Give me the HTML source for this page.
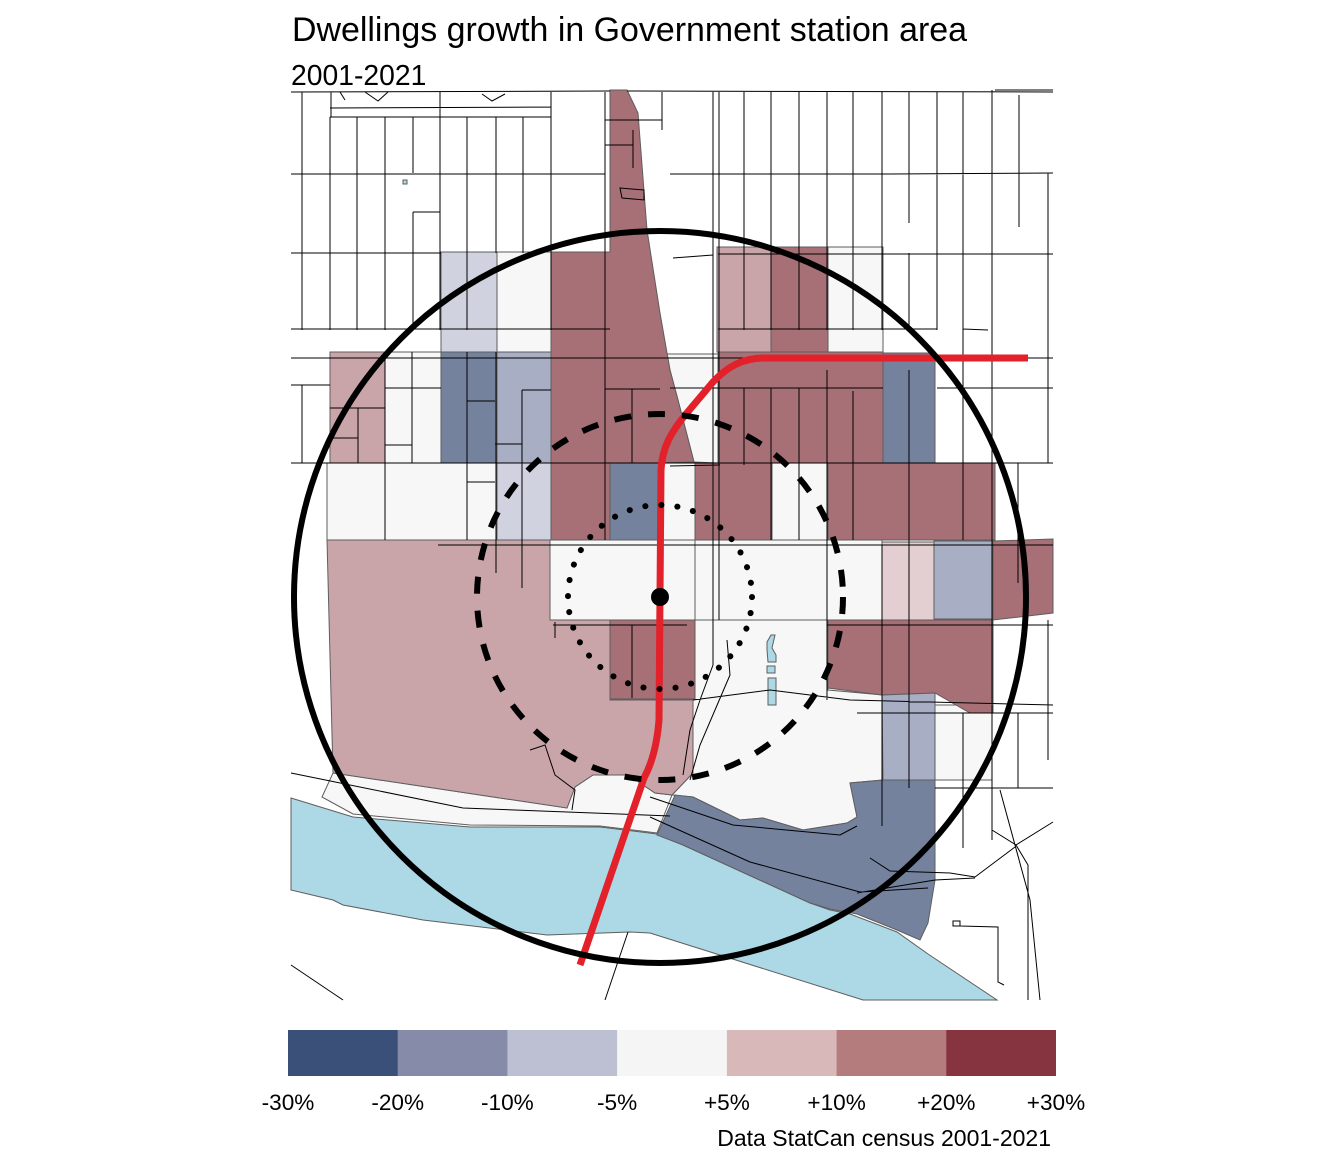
<!DOCTYPE html>
<html><head><meta charset="utf-8"><style>
html,body{margin:0;padding:0;background:#fff;}
svg{display:block;}
text{font-family:"Liberation Sans",Arial,sans-serif;fill:#000;}
</style></head><body>
<svg width="1344" height="1152" viewBox="0 0 1344 1152" xmlns="http://www.w3.org/2000/svg">
<rect width="1344" height="1152" fill="#fff"/>
<text x="292" y="41" font-size="33.8" textLength="675" lengthAdjust="spacingAndGlyphs">Dwellings growth in Government station area</text>
<text x="291" y="85" font-size="28.3">2001-2021</text>

<g stroke="#5e5e5e" stroke-width="1">
  <polygon fill="#add8e6" points="291,798 353,817 470,827 600,827 657,834 683,845 810,903 830,910 850,914 897,932 928,954 997,1000 863,1000 650,933 630,932 547,935 423,920 343,905 333,900 291,890"/>
  <polygon fill="#f7f7f7" points="322,797 333,773 567,808 575,787 593,775 630,775 640,783 655,793 672,795 657,833 600,826 470,825 353,814"/>
  <polygon fill="#f7f7f7" points="693,620 828,620 828,690 883,695 883,780 850,783 857,817 847,823 803,830 763,818 740,820 693,797 672,795 693,773"/>
  <rect x="935" y="705" width="57" height="75" fill="#f7f7f7"/>
  <polygon fill="#c9a5a9" points="327,540 550,540 550,620 610,620 610,700 693,700 693,773 672,795 655,793 640,783 630,775 593,775 575,787 567,808 333,773"/>
  <polygon fill="#74829e" points="657,835 675,795 693,797 740,820 763,818 803,830 847,823 857,817 850,783 883,780 935,780 935,880 928,923 920,940 897,930 857,914 830,909 810,903 683,845"/>

  <rect x="441" y="252" width="56" height="100" fill="#d0d3df"/>
  <rect x="497" y="252" width="54" height="100" fill="#f7f7f7"/>
  <rect x="717" y="247" width="54" height="105" fill="#c9a5a9"/>
  <rect x="771" y="247" width="57" height="105" fill="#a76f76"/>
  <rect x="828" y="247" width="55" height="108" fill="#f7f7f7"/>

  <rect x="330" y="352" width="55" height="111" fill="#c9a5a9"/>
  <rect x="385" y="352" width="56" height="111" fill="#f7f7f7"/>
  <rect x="441" y="352" width="56" height="111" fill="#74829e"/>
  <rect x="497" y="352" width="54" height="111" fill="#a8aec4"/>
  <polygon fill="#f7f7f7" points="667,354 718,354 718,463 694,462 678,400 670,370"/>
  <rect x="718" y="352" width="165" height="111" fill="#a76f76"/>
  <rect x="883" y="353" width="52" height="110" fill="#74829e"/>

  <rect x="327" y="463" width="170" height="77" fill="#f7f7f7"/>
  <rect x="497" y="463" width="54" height="77" fill="#d0d3df"/>
  <rect x="610" y="463" width="50" height="77" fill="#74829e"/>
  <rect x="660" y="463" width="35" height="77" fill="#f7f7f7"/>
  <rect x="695" y="463" width="77" height="77" fill="#a76f76"/>
  <rect x="772" y="463" width="56" height="77" fill="#f7f7f7"/>
  <rect x="828" y="463" width="167" height="77" fill="#a76f76"/>

  <rect x="550" y="540" width="145" height="80" fill="#f7f7f7"/>
  <rect x="695" y="540" width="187" height="80" fill="#f7f7f7"/>
  <rect x="882" y="542" width="52" height="80" fill="#e3cfd1"/>
  <rect x="934" y="541" width="59" height="78" fill="#a8aec4"/>
  <polygon fill="#a76f76" points="993,541 1053,539 1053,613 993,620"/>

  <rect x="610" y="620" width="85" height="79" fill="#a76f76"/>
  <polygon fill="#a76f76" points="828,620 993,620 993,713 970,713 935,693 882,695 828,688"/>
  <polygon fill="#a8aec4" points="882,695 935,693 935,780 883,780"/>

  <polygon fill="#a76f76" points="610,90 627,90 638,113 647,230 660,313 670,370 678,400 694,462 660,463 610,463 610,540 551,540 551,252 610,252"/>

  <polygon fill="#add8e6" points="767,642 771,635 775,635 772,648 776,655 776,662 768,662 767,650"/>
  <rect x="767" y="666" width="8" height="7" fill="#add8e6"/>
  <rect x="768" y="678" width="8" height="27" fill="#add8e6"/>
  <rect x="403" y="180" width="4" height="4" fill="#add8e6"/>
</g>

<path fill="none" stroke="#000" stroke-width="1" d="
M291,92 L610,91 M627,91 L1053,92
M330,108 L551,107 M330,117 L551,117
M291,174 L605,174 M670,174 L890,174 L1053,173
M291,253 L441,253 M673,258 L713,255 M718,254 L1053,254
M291,329 L610,329 M718,329 L937,329 M963,329 L988,330
M291,358 L1053,358
M291,385 L330,385 M385,388 L441,388 M330,408 L385,408 M330,438 L358,438 M385,445 L412,445
M467,401 L495,401 M467,482 L495,482 M522,390 L551,390 M495,444 L522,444
M605,389 L660,389 M670,388 L883,388 M937,388 L1053,388
M291,463 L1053,463 M670,466 L720,465
M438,545 L1053,545
M553,625 L687,625 M827,625 L1053,625
M857,713 L1053,713 M935,788 L1053,788
M605,120 L662,120 M605,145 L633,145 M633,130 L633,168 M662,92 L662,130
M620,188 L644,190 L644,200 L622,198 Z
M302,92 L302,330 M302,385 L302,463
M331,92 L331,117 M551,92 L551,117
M330,117 L330,330 M357,117 L357,330 M385,117 L385,330
M413,117 L413,173 M413,212 L413,330 M413,212 L440,212
M440,92 L440,330 M467,117 L467,330 M496,117 L496,253 M523,117 L523,253 M551,117 L551,330
M605,92 L605,540
M358,408 L358,463 M385,352 L385,540 M412,352 L412,463 M467,352 L467,540
M496,352 L496,573 M522,390 L522,588
M632,389 L632,463 M632,625 L632,698 M555,622 L555,638
M713,92 L713,665 M719,92 L719,620
M744,92 L744,330 M744,388 L744,465
M771,92 L771,330 M771,388 L771,540
M799,92 L799,330 M799,388 L799,540
M827,92 L827,330 M827,370 L827,700
M853,92 L853,330 M853,391 L853,540
M882,92 L882,330 M882,545 L882,826
M909,92 L909,223 M909,253 L909,328 M909,370 L909,788
M937,92 L937,330 M963,92 L963,540
M992,90 L992,840 M995,90 L1053,90
M1019,95 L1019,227 M1018,463 L1018,583 M1018,713 L1018,788
M1048,173 L1048,463 M1048,620 L1048,760
M963,713 L963,848
M992,830 L1016,845 L1028,865 L1028,1000 M1016,845 L1053,822
M1000,790 L1030,900 L1040,1000
M870,858 L890,871 L950,873 L975,877 L1015,847
M857,893 L935,880 L975,878
M953,921 L960,921 L960,926 L953,926 Z M960,926 L998,927 L998,982 L1004,985
M291,965 L343,1000 M605,1000 L628,932
M713,665 L700,700 L690,730 L683,775
M727,640 L730,675 L715,710 L700,745 L690,780
M693,700 L770,690 L850,700 L1053,705
M650,797 L733,825 L840,835 L857,826
M650,817 L750,862 L860,892 L928,888
M291,773 L463,808 L670,816
M530,750 L545,745 L555,775 L575,790 L572,810
M340,92 L345,100 M365,92 L378,101 L388,92 M482,94 L492,101 L505,94
"/>

<path fill="none" stroke="#e3212a" stroke-width="7" d="M1028,358 L765,358 C742,358 727,367 713,382 L686,414 C671,432 662,448 661,470 L659,720 C657,745 651,765 644,778 L580,965"/>

<circle cx="660" cy="597" r="366" fill="none" stroke="#000" stroke-width="6"/>
<circle cx="660" cy="597" r="183" fill="none" stroke="#000" stroke-width="6" stroke-dasharray="17 17"/>
<circle cx="660" cy="597" r="92" fill="none" stroke="#000" stroke-width="6" stroke-dasharray="0.1 16" stroke-linecap="round"/>
<circle cx="660" cy="597" r="9" fill="#000"/>

<rect x="288" y="1030" width="110.2" height="46" fill="#3b5078"/>
<rect x="397.7" y="1030" width="110.2" height="46" fill="#858ba9"/>
<rect x="507.4" y="1030" width="110.2" height="46" fill="#bdc0d2"/>
<rect x="617.1" y="1030" width="110.2" height="46" fill="#f5f5f5"/>
<rect x="726.9" y="1030" width="110.2" height="46" fill="#d8b8b9"/>
<rect x="836.6" y="1030" width="110.2" height="46" fill="#b47c7d"/>
<rect x="946.3" y="1030" width="109.7" height="46" fill="#86343f"/>
<g font-size="22.6" text-anchor="middle">
<text x="288" y="1110">-30%</text>
<text x="397.7" y="1110">-20%</text>
<text x="507.4" y="1110">-10%</text>
<text x="617.1" y="1110">-5%</text>
<text x="726.9" y="1110">+5%</text>
<text x="836.6" y="1110">+10%</text>
<text x="946.3" y="1110">+20%</text>
<text x="1056" y="1110">+30%</text>
</g>
<text x="1051" y="1146" font-size="23" text-anchor="end">Data StatCan census 2001-2021</text>
</svg>
</body></html>
